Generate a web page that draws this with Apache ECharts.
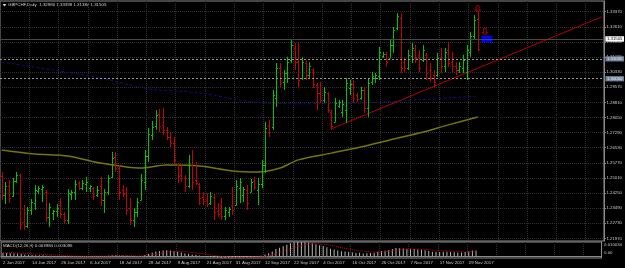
<!DOCTYPE html>
<html>
<head>
<meta charset="utf-8">
<script src="https://cdn.jsdelivr.net/npm/echarts@6/dist/echarts.min.js"></script>
<style>
  html, body { margin: 0; padding: 0; background: #000; }
  #main { width: 625px; height: 268px; }
</style>
</head>
<body>
<div id="main"></div>
<script>
// GBPCHF daily, 2 Jun 2017 .. 1 Dec 2017 (one entry per trading day)
var opens = [
  1.2511,1.2415,1.2460,1.2410,1.2486,1.2516,1.2279,1.2259,1.2340,1.2375,
  1.2435,1.2445,1.2430,1.2305,1.2325,1.2335,1.2365,1.2320,1.2289,1.2420,
  1.2430,1.2476,1.2450,1.2471,1.2450,1.2450,1.2415,1.2460,1.2390,1.2430,
  1.2506,1.2607,1.2551,1.2440,1.2425,1.2350,1.2289,1.2330,1.2390,1.2481,
  1.2612,1.2717,1.2763,1.2823,1.2768,1.2743,1.2707,1.2677,1.2566,1.2516,
  1.2501,1.2460,1.2566,1.2491,1.2471,1.2405,1.2390,1.2375,1.2405,1.2335,
  1.2365,1.2310,1.2330,1.2365,1.2365,1.2450,1.2415,1.2440,1.2430,1.2486,
  1.2440,1.2471,1.2566,1.2763,1.2758,1.2904,1.3054,1.2984,1.3029,1.3094,
  1.3155,1.3084,1.3004,1.3079,1.3019,1.3044,1.2969,1.2929,1.2894,1.2929,
  1.2833,1.2783,1.2863,1.2833,1.2843,1.2954,1.2974,1.2919,1.2904,1.2944,
  1.2853,1.2984,1.3004,1.3014,1.3115,1.3125,1.3105,1.3170,1.3255,1.3306,
  1.3084,1.3054,1.3115,1.3145,1.3120,1.3094,1.3120,1.3044,1.3019,1.3019,
  1.3105,1.3064,1.3145,1.3084,1.3064,1.3044,1.3054,1.3034,1.3135,1.3215,
  1.3298
];
var highs = [
  1.2531,1.2481,1.2491,1.2501,1.2531,1.2521,1.2365,1.2355,1.2395,1.2465,
  1.2460,1.2465,1.2440,1.2375,1.2340,1.2370,1.2400,1.2330,1.2445,1.2440,
  1.2491,1.2486,1.2491,1.2506,1.2465,1.2455,1.2460,1.2506,1.2445,1.2516,
  1.2632,1.2632,1.2566,1.2465,1.2455,1.2400,1.2350,1.2400,1.2521,1.2642,
  1.2753,1.2788,1.2843,1.2848,1.2853,1.2758,1.2732,1.2707,1.2571,1.2566,
  1.2516,1.2617,1.2642,1.2581,1.2476,1.2430,1.2425,1.2430,1.2420,1.2375,
  1.2400,1.2355,1.2355,1.2455,1.2491,1.2501,1.2455,1.2465,1.2496,1.2506,
  1.2501,1.2592,1.2783,1.2793,1.2944,1.3079,1.3079,1.3044,1.3110,1.3200,
  1.3180,1.3180,1.3110,1.3094,1.3084,1.3054,1.2979,1.2984,1.2959,1.2934,
  1.2843,1.2904,1.2894,1.2894,1.3004,1.2994,1.2994,1.2929,1.2959,1.2959,
  1.3004,1.3034,1.3029,1.3160,1.3135,1.3135,1.3195,1.3260,1.3331,1.3331,
  1.3105,1.3145,1.3180,1.3170,1.3145,1.3170,1.3130,1.3079,1.3044,1.3130,
  1.3155,1.3155,1.3185,1.3135,1.3084,1.3084,1.3120,1.3170,1.3235,1.3321,
  1.33398
];
var lows = [
  1.2390,1.2370,1.2375,1.2405,1.2476,1.2239,1.2239,1.2249,1.2315,1.2340,
  1.2420,1.2380,1.2279,1.2254,1.2289,1.2305,1.2300,1.2274,1.2269,1.2390,
  1.2390,1.2440,1.2440,1.2430,1.2430,1.2390,1.2405,1.2360,1.2325,1.2415,
  1.2501,1.2531,1.2390,1.2405,1.2315,1.2264,1.2254,1.2305,1.2390,1.2440,
  1.2581,1.2692,1.2743,1.2732,1.2717,1.2692,1.2657,1.2566,1.2476,1.2481,
  1.2430,1.2450,1.2440,1.2465,1.2365,1.2365,1.2355,1.2365,1.2289,1.2305,
  1.2289,1.2289,1.2305,1.2315,1.2365,1.2375,1.2380,1.2340,1.2430,1.2440,
  1.2365,1.2450,1.2526,1.2707,1.2743,1.2858,1.2959,1.2944,1.2979,1.3079,
  1.3044,1.2954,1.2994,1.2994,1.3004,1.2954,1.2843,1.2879,1.2879,1.2828,
  1.2743,1.2783,1.2853,1.2808,1.2778,1.2919,1.2879,1.2884,1.2894,1.2828,
  1.2808,1.2969,1.2979,1.2994,1.3105,1.3059,1.3105,1.3130,1.3245,1.3029,
  1.3034,1.3044,1.3079,1.3079,1.3034,1.3084,1.2994,1.2984,1.2959,1.3009,
  1.3029,1.3034,1.3059,1.3034,1.3019,1.3029,1.3029,1.2994,1.3110,1.3195,
  1.31384
];
var closes = [
  1.2415,1.2460,1.2400,1.2486,1.2516,1.2269,1.2259,1.2340,1.2380,1.2440,
  1.2450,1.2455,1.2305,1.2355,1.2335,1.2350,1.2320,1.2289,1.2425,1.2430,
  1.2471,1.2450,1.2476,1.2481,1.2460,1.2410,1.2440,1.2390,1.2430,1.2501,
  1.2602,1.2551,1.2430,1.2420,1.2340,1.2289,1.2330,1.2380,1.2491,1.2612,
  1.2722,1.2758,1.2818,1.2763,1.2743,1.2707,1.2677,1.2592,1.2511,1.2501,
  1.2460,1.2566,1.2481,1.2476,1.2400,1.2385,1.2370,1.2410,1.2330,1.2320,
  1.2310,1.2340,1.2345,1.2340,1.2460,1.2481,1.2445,1.2375,1.2481,1.2455,
  1.2471,1.2566,1.2753,1.2732,1.2919,1.3054,1.2979,1.3029,1.3084,1.3170,
  1.3084,1.2994,1.3084,1.3019,1.3064,1.2974,1.2929,1.2894,1.2934,1.2843,
  1.2763,1.2879,1.2884,1.2874,1.2979,1.2974,1.2904,1.2899,1.2944,1.2853,
  1.2979,1.3014,1.3019,1.3135,1.3125,1.3084,1.3170,1.3245,1.3316,1.3054,
  1.3054,1.3120,1.3155,1.3105,1.3054,1.3145,1.3029,1.3004,1.2984,1.3105,
  1.3064,1.3135,1.3079,1.3064,1.3044,1.3064,1.3094,1.3145,1.3215,1.3296,
  1.31505
];

// moving averages, read at a few bars: [bar index, price]
var maBlue = [[0,1.3084],[14,1.3044],[27,1.3004],[40,1.2949],[54,1.2929],[68,1.2884],
  [81,1.2874],[100,1.2879],[114,1.2894],[130,1.2913]];
var maOlive = [[0,1.2642],[9,1.2622],[18,1.2612],[27,1.2576],[38,1.2551],[45,1.2566],
  [54,1.2561],[63,1.2536],[70,1.2531],[76,1.2551],[81,1.2592],[90,1.2626],[98,1.2657],
  [106,1.2692],[114,1.2727],[122,1.2768],[130,1.2808]];

// support trendline and the horizontal levels
var trendLine = [[90,1.2748],[164,1.3312]];
var levels = [1.32, 1.31, 1.30];
var bidPrice = 1.31505;
var boxArea = { from: 131, to: 134, top: 1.3216, bottom: 1.3184 };
var arrows = [[130,1.3353],[132,1.3238]];

// MACD(12,26,9)
var macd = [
  0.0022,0.0021,0.0020,0.0019,0.0019,0.0016,0.0012,0.0009,0.0007,0.0006,
  0.0006,0.0005,0.0003,0.0002,0.0001,0.0000,-0.0001,-0.0003,-0.0002,-0.0002,
  -0.0001,-0.0001,0.0000,0.0001,0.0001,0.0000,0.0000,0.0000,0.0000,0.0002,
  0.0006,0.0007,0.0006,0.0005,0.0003,0.0000,-0.0002,-0.0002,0.0001,0.0007,
  0.0016,0.0024,0.0032,0.0037,0.0040,0.0041,0.0040,0.0037,0.0031,0.0025,
  0.0019,0.0016,0.0012,0.0009,0.0004,0.0000,-0.0003,-0.0005,-0.0008,-0.0010,
  -0.0012,-0.0013,-0.0014,-0.0013,-0.0011,-0.0009,-0.0008,-0.0008,-0.0006,-0.0004,
  -0.0003,0.0002,0.0012,0.0020,0.0033,0.0050,0.0060,0.0070,0.0080,0.0092,
  0.0099,0.0100,0.0100,0.0098,0.0096,0.0092,0.0085,0.0078,0.0071,0.0063,
  0.0052,0.0046,0.0040,0.0035,0.0033,0.0031,0.0027,0.0024,0.0023,0.0019,
  0.0020,0.0022,0.0024,0.0031,0.0036,0.0038,0.0043,0.0050,0.0058,0.0056,
  0.0054,0.0053,0.0053,0.0051,0.0047,0.0047,0.0042,0.0036,0.0030,0.0030,
  0.0029,0.0030,0.0030,0.0029,0.0027,0.0026,0.0026,0.0029,0.0033,0.0040,
  0.003984
];
var signal = [
  0.0024,0.0024,0.0023,0.0023,0.0022,0.0021,0.0019,0.0018,0.0016,0.0014,
  0.0013,0.0012,0.0010,0.0009,0.0007,0.0006,0.0004,0.0003,0.0002,0.0001,
  0.0000,0.0000,-0.0001,-0.0001,0.0000,0.0000,0.0000,0.0000,0.0000,0.0000,
  0.0001,0.0002,0.0003,0.0003,0.0003,0.0003,0.0002,0.0001,0.0001,0.0002,
  0.0004,0.0008,0.0012,0.0017,0.0022,0.0026,0.0029,0.0031,0.0032,0.0032,
  0.0031,0.0029,0.0026,0.0023,0.0020,0.0016,0.0012,0.0008,0.0004,0.0001,
  -0.0002,-0.0005,-0.0007,-0.0009,-0.0010,-0.0010,-0.0010,-0.0010,-0.0009,-0.0009,
  -0.0008,-0.0006,-0.0003,0.0001,0.0008,0.0016,0.0025,0.0034,0.0043,0.0052,
  0.0061,0.0068,0.0075,0.0080,0.0084,0.0087,0.0088,0.0087,0.0085,0.0082,
  0.0078,0.0072,0.0066,0.0060,0.0055,0.0050,0.0046,0.0042,0.0038,0.0035,
  0.0032,0.0030,0.0029,0.0029,0.0030,0.0032,0.0034,0.0037,0.0041,0.0044,
  0.0046,0.0048,0.0049,0.0050,0.0050,0.0049,0.0048,0.0046,0.0043,0.0041,
  0.0039,0.0037,0.0036,0.0035,0.0033,0.0032,0.0031,0.0030,0.0031,0.0032,
  0.003096
];

var priceTicks = [1.2197,1.2273,1.2349,1.2425,1.2501,1.2577,1.2653,1.2729,1.2805,
  1.2881,1.2957,1.3033,1.3109,1.3185,1.3261,1.3337];
var macdMax = 0.010034, macdMin = -0.001379;
var macdTicks = [macdMax, 0, macdMin];
var dateLabels = ['2 Jun 2017','14 Jun 2017','26 Jun 2017','6 Jul 2017','18 Jul 2017',
  '28 Jul 2017','9 Aug 2017','21 Aug 2017','31 Aug 2017','12 Sep 2017','22 Sep 2017',
  '4 Oct 2017','16 Oct 2017','26 Oct 2017','7 Nov 2017','17 Nov 2017','29 Nov 2017'];
var labelStep = 8;   // a date label every 8 bars
var slotCount = 165; // bars + empty space on the right

var slots = [];
for (var s = 0; s < slotCount; s++) slots.push(String(s));

var bars = opens.map(function (o, i) {
  return [i, o, highs[i], lows[i], closes[i]];
});

var FONT = 'Liberation Sans';
var TXT = '#c8c8c8';
var GRID = '#303030';

function renderBar(params, api) {
  var i = api.value(0);
  var o = api.coord([i, api.value(1)]);
  var h = api.coord([i, api.value(2)]);
  var l = api.coord([i, api.value(3)]);
  var c = api.coord([i, api.value(4)]);
  var x = Math.round(o[0]) + 0.5;
  var up = api.value(4) >= api.value(1);
  var st = { stroke: up ? '#00c400' : '#c80000', lineWidth: 1 };
  var yo = Math.round(o[1]) + 0.5, yc = Math.round(c[1]) + 0.5;
  return {
    type: 'group',
    children: [
      { type: 'line', shape: { x1: x, y1: h[1], x2: x, y2: l[1] }, style: st },
      { type: 'line', shape: { x1: x - 1.5, y1: yo, x2: x, y2: yo }, style: st },
      { type: 'line', shape: { x1: x, y1: yc, x2: x + 1.5, y2: yc }, style: st }
    ]
  };
}

var chart = echarts.init(document.getElementById('main'), null, { renderer: 'canvas' });

chart.setOption({
  backgroundColor: '#000',
  animation: false,
  textStyle: { fontFamily: FONT },
  grid: [
    { left: 0, top: 1, width: 605, height: 240, show: true, borderColor: '#8a8a8a', borderWidth: 1 },
    { left: 0, top: 242, width: 605, height: 16, show: true, borderColor: '#8a8a8a', borderWidth: 1 }
  ],
  xAxis: [
    {
      type: 'category', gridIndex: 0, data: slots, boundaryGap: true,
      axisLine: { show: false }, axisTick: { show: false }, axisLabel: { show: false },
      splitLine: {
        show: true,
        interval: function (i) { return i % labelStep === 0 && i > 0; },
        lineStyle: { color: GRID, type: 'dotted' }
      }
    },
    {
      type: 'category', gridIndex: 1, data: slots, boundaryGap: true,
      axisLine: { show: true, lineStyle: { color: '#8a8a8a' } },
      axisTick: { show: false },
      axisLabel: {
        interval: function (i) { return i % labelStep === 0 && i / labelStep < dateLabels.length; },
        formatter: function (v, i) { return dateLabels[i / labelStep] || ''; },
        color: TXT, fontSize: 4.4, align: 'left', margin: 2.5, fontFamily: FONT
      },
      splitLine: {
        show: true,
        interval: function (i) { return i % labelStep === 0 && i > 0; },
        lineStyle: { color: GRID, type: 'dotted' }
      }
    }
  ],
  yAxis: [
    {
      type: 'value', gridIndex: 0, position: 'right', min: 1.2184, max: 1.3391,
      axisLine: { show: true, lineStyle: { color: '#8a8a8a' } },
      axisTick: { show: true, length: 2, customValues: priceTicks, lineStyle: { color: '#8a8a8a' } },
      axisLabel: {
        customValues: priceTicks, color: TXT, fontSize: 4.3, margin: 2.5, fontFamily: FONT,
        formatter: function (v) { return v.toFixed(5); }
      },
      splitLine: { show: true, lineStyle: { color: GRID, type: 'dotted' } }
    },
    {
      type: 'value', gridIndex: 1, position: 'right', min: macdMin, max: macdMax,
      axisLine: { show: true, lineStyle: { color: '#8a8a8a' } },
      axisTick: { show: false },
      axisLabel: {
        customValues: macdTicks, color: TXT, fontSize: 4.3, margin: 2.5, fontFamily: FONT,
        formatter: function (v) {
          if (v === 0) return '{z|0.00}';
          if (v > 0) return '{t|' + v.toFixed(6) + '}';
          return '{b|' + v.toFixed(6) + '}';
        },
        rich: {
          t: { fontSize: 4.3, color: TXT, padding: [5, 0, 0, 0] },
          z: { fontSize: 4.3, color: TXT, padding: [0, 0, 6, 0] },
          b: { fontSize: 4.3, color: TXT, padding: [0, 0, 3, 0] }
        }
      },
      splitLine: { show: false }
    }
  ],
  graphic: [
    { type: 'polygon', shape: { points: [[2.5, 4], [6.5, 4], [4.5, 6.5]] }, style: { fill: '#d0d0d0' } },
    {
      type: 'text', left: 8, top: 2.5,
      style: { text: 'GBPCHF,Daily  1.32980 1.33398 1.31384 1.31505', fill: '#d0d0d0', font: '4.4px ' + FONT }
    },
    {
      type: 'text', left: 3, top: 243.5,
      style: { text: 'MACD(12,26,9) 0.003984 0.003096', fill: '#d0d0d0', font: '4.4px ' + FONT }
    }
  ],
  series: [
    {
      name: 'MA slow', type: 'line', xAxisIndex: 0, yAxisIndex: 0,
      data: maBlue, symbol: 'none', smooth: 0.3, silent: true,
      lineStyle: { color: '#10107a', width: 1, type: [3, 2] }, z: 2
    },
    {
      name: 'MA fast', type: 'line', xAxisIndex: 0, yAxisIndex: 0,
      data: maOlive, symbol: 'none', smooth: 0.3, silent: true,
      lineStyle: { color: '#75750e', width: 1.5 }, z: 2
    },
    {
      name: 'trend', type: 'line', xAxisIndex: 0, yAxisIndex: 0,
      data: trendLine, symbol: 'none', silent: true,
      lineStyle: { color: '#b40000', width: 1 }, z: 3
    },
    {
      name: 'GBPCHF', type: 'custom', xAxisIndex: 0, yAxisIndex: 0,
      renderItem: renderBar, data: bars, encode: { x: 0, y: [1, 2, 3, 4] }, z: 4,
      markArea: {
        silent: true,
        itemStyle: { color: '#0000ff' },
        data: [[{ xAxis: String(boxArea.from), yAxis: boxArea.top }, { xAxis: String(boxArea.to), yAxis: boxArea.bottom }]]
      },
      markLine: {
        silent: true, symbol: 'none', animation: false,
        data: levels.map(function (v) {
          return {
            yAxis: v,
            lineStyle: { color: '#9a9a9a', type: [2, 2], width: 1 },
            label: {
              show: true, position: 'end', distance: 1.5, formatter: v.toFixed(5),
              backgroundColor: '#71869b', color: '#e8e8e8', fontSize: 4.3, padding: [0.6, 1.5], fontFamily: FONT
            }
          };
        }).concat([{
          yAxis: bidPrice,
          lineStyle: { color: '#484848', type: 'solid', width: 1 },
          label: {
            show: true, position: 'end', distance: 1.5, formatter: bidPrice.toFixed(5),
            backgroundColor: '#ffffff', color: '#000', fontSize: 4.3, padding: [0.6, 1.5], fontFamily: FONT
          }
        }])
      }
    },
    {
      name: 'arrows', type: 'scatter', xAxisIndex: 0, yAxisIndex: 0, data: arrows,
      symbol: 'path://M2,10 L2,3 Q2,0 5,0 Q8,0 8,3 L8,10 L10,10 L5,14 L0,10 Z',
      symbolSize: [5, 6], silent: true,
      itemStyle: { color: 'rgba(0,0,0,0)', borderColor: '#d00000', borderWidth: 1 }, z: 5
    },
    {
      name: 'MACD', type: 'bar', xAxisIndex: 1, yAxisIndex: 1, data: macd,
      barWidth: 1, itemStyle: { color: '#b8b8b8' }, silent: true
    },
    {
      name: 'Signal', type: 'line', xAxisIndex: 1, yAxisIndex: 1, data: signal,
      symbol: 'none', silent: true, lineStyle: { color: '#d00000', width: 1, type: 'dotted' }
    }
  ]
});
</script>
</body>
</html>
